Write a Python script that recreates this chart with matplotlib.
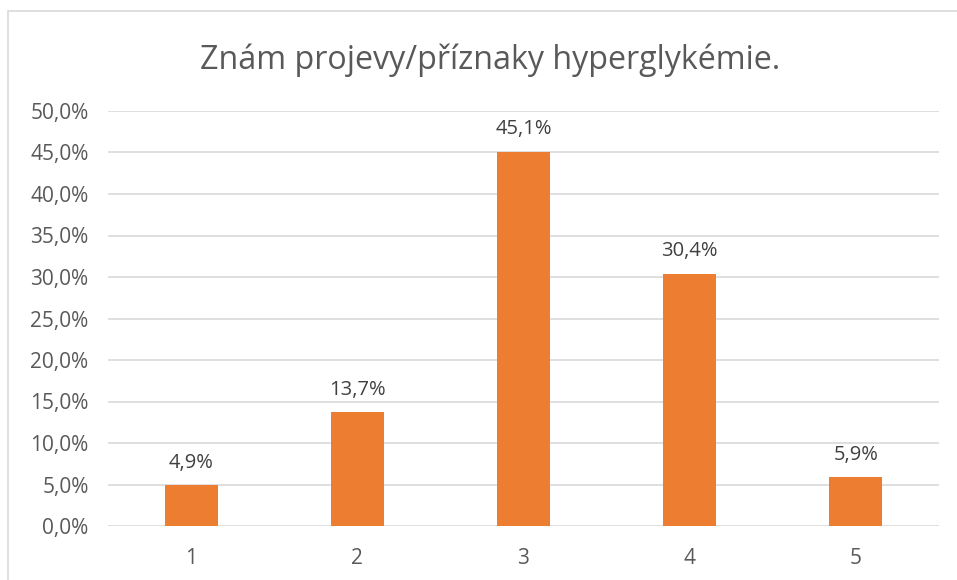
import matplotlib
matplotlib.use("Agg")
import matplotlib.pyplot as plt
from matplotlib.patches import Rectangle

categories = ["1", "2", "3", "4", "5"]
values = [4.9, 13.7, 45.1, 30.4, 5.9]
yticks = [0, 5, 10, 15, 20, 25, 30, 35, 40, 45, 50]
title = "Znám projevy/příznaky hyperglykémie."

W, H = 957, 580
fig = plt.figure(figsize=(W / 100, H / 100), dpi=100)
plt.rcParams['font.family'] = ['Open Sans', 'DejaVu Sans']

# outer chart frame (left/top visible)
fig.patches.append(Rectangle((8 / W, -0.05), 1.2, (H - 11) / H + 0.05,
                             transform=fig.transFigure, fill=False,
                             edgecolor="#d9d9d9", linewidth=1.2))

left, right = 108 / W, 939 / W
bottom, top = 1 - 526 / H, 1 - 111 / H
ax = fig.add_axes([left, bottom, right - left, top - bottom])

x = list(range(len(categories)))
ax.bar(x, values, width=0.32, color="#ED7D31", zorder=3)
ax.set_xlim(-0.5, len(categories) - 0.5)
ax.set_ylim(0, 50)
ax.set_yticks(yticks)
ax.set_yticklabels([f"{v:.1f}%".replace(".", ",") for v in yticks],
                   fontsize=15, color="#595959")
ax.set_xticks(x)
ax.set_xticklabels(categories, fontsize=15, color="#595959")
ax.tick_params(length=0)
ax.tick_params(axis="x", pad=16)
ax.tick_params(axis="y", pad=14)
ax.grid(axis="y", color="#d9d9d9", linewidth=1.2, zorder=0)
for s in ax.spines.values():
    s.set_visible(False)

for xi, v in zip(x, values):
    ax.annotate(f"{v:.1f}%".replace(".", ","), (xi, v), xytext=(0, 9),
                textcoords="offset points", ha="center", va="bottom",
                fontsize=14.5, color="#404040")

fig.text(490 / W, 1 - 60 / H, title, ha="center", va="center",
         fontsize=23.2, color="#595959")

fig.savefig("out.png", dpi=100)
